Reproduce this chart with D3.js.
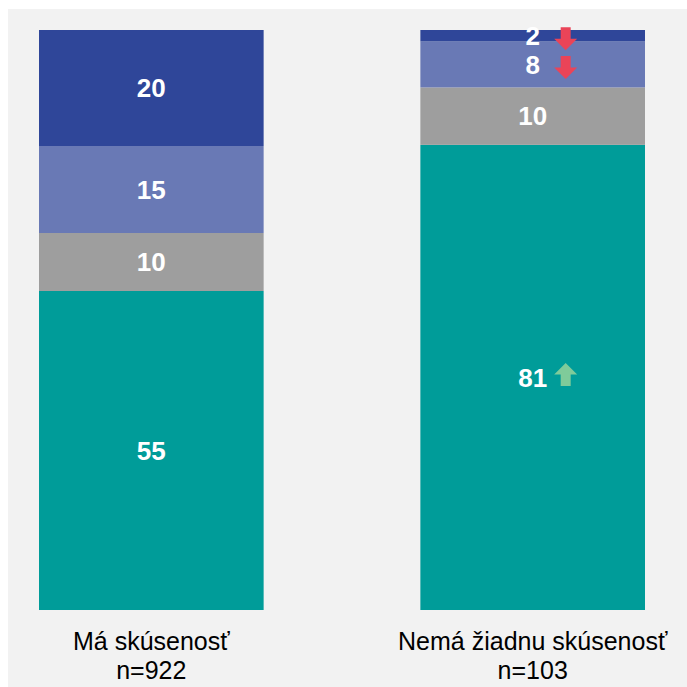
<!DOCTYPE html>
<html>
<head>
 <meta charset="UTF-8">
 <title>Skúsenosť</title>
 <script src="https://d3js.org/d3.v7.min.js"></script>
 <style>
  body { margin: 0; background: #fff; }
  text { font-family: "Liberation Sans", Arial, sans-serif; }
 </style>
</head>
<body>
<script type="text/javascript">
// data
var categories = ["Má skúsenosť", "Nemá žiadnu skúsenosť"];
var sampleSizes = ["n=922", "n=103"];
var seriesKeys = ["s4", "s3", "s2", "s1"]; // bottom to top
var s1 = [20, 2];   // dark blue (top)
var s2 = [15, 8];   // light blue
var s3 = [10, 10];  // gray
var s4 = [55, 81];  // teal (bottom)
// significance arrows per category: "up", "down" or ""
var arrowS1 = ["", "down"];
var arrowS2 = ["", "down"];
var arrowS3 = ["", ""];
var arrowS4 = ["", "up"];

var colors = { s1: "#2f4699", s2: "#6979b5", s3: "#9e9e9e", s4: "#009c99" };
var arrows = { s1: arrowS1, s2: arrowS2, s3: arrowS3, s4: arrowS4 };
var vals = { s1: s1, s2: s2, s3: s3, s4: s4 };

var width = 687, height = 687;

var svg = d3.select("body").append("svg")
  .attr("width", width)
  .attr("height", height);

svg.append("rect")
  .attr("x", 8).attr("y", 9)
  .attr("width", width - 8).attr("height", height - 9)
  .attr("fill", "#f2f2f2");

var table = categories.map(function (c, i) {
  var row = { cat: c, idx: i };
  seriesKeys.forEach(function (k) { row[k] = vals[k][i]; });
  row.total = d3.sum(seriesKeys, function (k) { return vals[k][i]; });
  return row;
});

// normalise each bar to its own sum
var stacked = d3.stack()
  .keys(seriesKeys)
  .value(function (d, k) { return d[k] / d.total * 100; })(table);

var x = d3.scaleBand()
  .domain(categories)
  .range([39, 645])
  .paddingInner(0.411)
  .paddingOuter(0);

var y = d3.scaleLinear().domain([0, 100]).range([610, 30]);

var layer = svg.selectAll("g.layer")
  .data(stacked)
  .enter().append("g")
  .attr("class", "layer")
  .attr("fill", function (d) { return colors[d.key]; });

layer.selectAll("rect")
  .data(function (d) { return d; })
  .enter().append("rect")
  .attr("x", function (d) { return x(d.data.cat); })
  .attr("width", x.bandwidth())
  .attr("y", function (d) { return y(d[1]); })
  .attr("height", function (d) { return y(d[0]) - y(d[1]); });

var labels = svg.selectAll("g.lab")
  .data(stacked)
  .enter().append("g")
  .attr("class", "lab");

labels.selectAll("text")
  .data(function (s) { return s.map(function (d) { return { d: d, key: s.key }; }); })
  .enter().append("text")
  .attr("x", function (o) { return x(o.d.data.cat) + x.bandwidth() / 2; })
  .attr("y", function (o) { return (y(o.d[0]) + y(o.d[1])) / 2; })
  .attr("dy", "0.36em")
  .attr("text-anchor", "middle")
  .attr("fill", "#fff")
  .attr("font-weight", "bold")
  .attr("font-size", 26)
  .text(function (o) { return o.d.data[o.key]; });

// arrows
var arrowData = [];
stacked.forEach(function (s) {
  s.forEach(function (d) {
    var dir = arrows[s.key][d.data.idx];
    if (dir) arrowData.push({ dir: dir, cx: x(d.data.cat) + x.bandwidth() / 2 + 33, cy: (y(d[0]) + y(d[1])) / 2 + 3 });
  });
});

function arrowPath(dir) {
  // 23 wide, 23 tall
  var p = [[-5, -11.5], [5, -11.5], [5, 0], [11.5, 0], [0, 11.5], [-11.5, 0], [-5, 0]];
  if (dir === "up") p = p.map(function (q) { return [q[0], -q[1]]; });
  return d3.line()(p) + "Z";
}

svg.selectAll("path.arrow")
  .data(arrowData)
  .enter().append("path")
  .attr("class", "arrow")
  .attr("transform", function (d) { return "translate(" + d.cx + "," + (d.dir === "up" ? d.cy - 6 : d.cy) + ")"; })
  .attr("d", function (d) { return arrowPath(d.dir); })
  .attr("fill", function (d) { return d.dir === "up" ? "#7fcb9a" : "#ea4458"; });

// category labels
var cl = svg.selectAll("text.cat")
  .data(categories)
  .enter().append("text")
  .attr("class", "cat")
  .attr("text-anchor", "middle")
  .attr("font-size", 25)
  .attr("fill", "#000")
  .attr("transform", function (d) { return "translate(" + (x(d) + x.bandwidth() / 2) + ",650)"; });
cl.append("tspan").attr("x", 0).attr("y", 0).text(function (d) { return d; });
cl.append("tspan").attr("x", 0).attr("y", 29).text(function (d, i) { return sampleSizes[i]; });
</script>
</body>
</html>
